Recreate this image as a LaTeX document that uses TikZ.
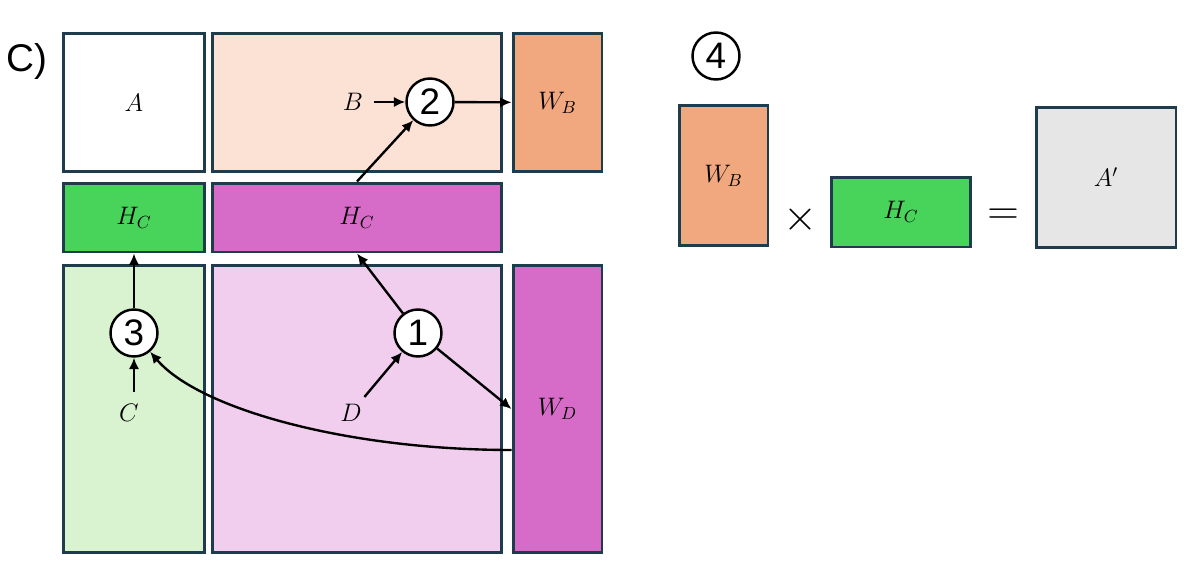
\documentclass[tikz,border=0pt]{standalone}
\usepackage{fontspec}
\newfontfamily\arialfont{Liberation Sans}
\usepackage{xcolor}
\definecolor{edgeslate}{HTML}{1F3C4C}
\definecolor{peachlight}{HTML}{FBE2D5}
\definecolor{peachdark}{HTML}{F1A87F}
\definecolor{greendark}{HTML}{48D35A}
\definecolor{greenlight}{HTML}{D9F2D0}
\definecolor{magdark}{HTML}{D76CC8}
\definecolor{maglight}{HTML}{F1CDEE}
\definecolor{graylight}{HTML}{E6E6E6}
\usepackage{tikz}
\usetikzlibrary{arrows.meta, calc}
\tikzset{
  mblk/.style ={rectangle, draw=edgeslate, line width=1.7pt, inner sep=0pt, font=\fontsize{14.5}{16}\selectfont},
  mlbl/.style ={inner sep=4pt, font=\fontsize{14.5}{16}\selectfont},
  stepno/.style={circle, draw=black, line width=1.4pt, fill=white, minimum size=0.94cm, inner sep=0pt,
                 font=\arialfont\fontsize{21}{22}\selectfont},
  marr/.style ={-{Latex[length=2.3mm,width=2.1mm]}, line width=1.35pt, color=black},
  opsym/.style={font=\fontsize{24}{26}\selectfont},
}
\begin{document}
\begin{tikzpicture}[x=0.02cm, y=-0.02cm]
  \useasboundingbox (0,0) rectangle (1188,561);
  \node[font=\arialfont\fontsize{22}{24}\selectfont] (tag) at (27,61) {C)};
  % top row
  \node[mblk, fill=white, minimum width=2.84cm, minimum height=2.78cm] (bA) at (134,102.5) {$A$};
  \node[mblk, fill=peachlight, minimum width=5.8cm, minimum height=2.78cm] (bB) at (357,102.5) {};
  \node[mblk, fill=peachdark, minimum width=1.78cm, minimum height=2.78cm] (wB) at (557.5,102.5) {$W_B$};
  % middle row
  \node[mblk, fill=greendark, minimum width=2.84cm, minimum height=1.38cm] (hcC) at (134,217.5) {$H_C$};
  \node[mblk, fill=magdark, minimum width=5.8cm, minimum height=1.38cm] (hcD) at (357,217.5) {$H_C$};
  % bottom row
  \node[mblk, fill=greenlight, minimum width=2.84cm, minimum height=5.76cm] (bC) at (134,409) {};
  \node[mblk, fill=maglight, minimum width=5.8cm, minimum height=5.76cm] (bD) at (357,409) {};
  \node[mblk, fill=magdark, minimum width=1.78cm, minimum height=5.76cm] (wD) at (557.5,409) {$W_D$};
  \node[mlbl] (lB) at (353,102) {$B$};
  \node[mlbl] (lC) at (129,413) {$C$};
  \node[mlbl] (lD) at (351,413) {$D$};
  % steps
  \node[stepno] (n1) at (418,333) {1};
  \node[stepno] (n2) at (430,102) {2};
  \node[stepno] (n3) at (134,333) {3};
  \draw[marr] (lD) -- (n1);
  \draw[marr] (n1) -- (hcD.south);
  \draw[marr] (n1) -- (wD.west);
  \draw[marr, shorten <=2pt] (lB) -- (n2);
  \draw[marr] (hcD.north) -- (n2);
  \draw[marr] (n2) -- (wB);
  \draw[marr, shorten <=3pt] (lC.north -| n3) -- (n3);
  \draw[marr] (n3) -- (hcC.south);
  \draw[marr] ([yshift=-0.82cm]wD.west) .. controls (350,450) and (200,410) .. (n3);
  % product
  \node[stepno] (n4) at (716,56) {4};
  \node[mblk, fill=peachdark, minimum width=1.78cm, minimum height=2.82cm] (wB2) at (723.5,175.5) {$W_B$};
  \node[opsym] (times) at (800,220) {$\times$};
  \node[mblk, fill=greendark, minimum width=2.8cm, minimum height=1.4cm] (hcR) at (901,212) {$H_C$};
  \node[opsym] (eq) at (1003,217) {$=$};
  \node[mblk, fill=graylight, minimum width=2.8cm, minimum height=2.82cm] (aP) at (1106,177.5) {$A'$};
\end{tikzpicture}
\end{document}
